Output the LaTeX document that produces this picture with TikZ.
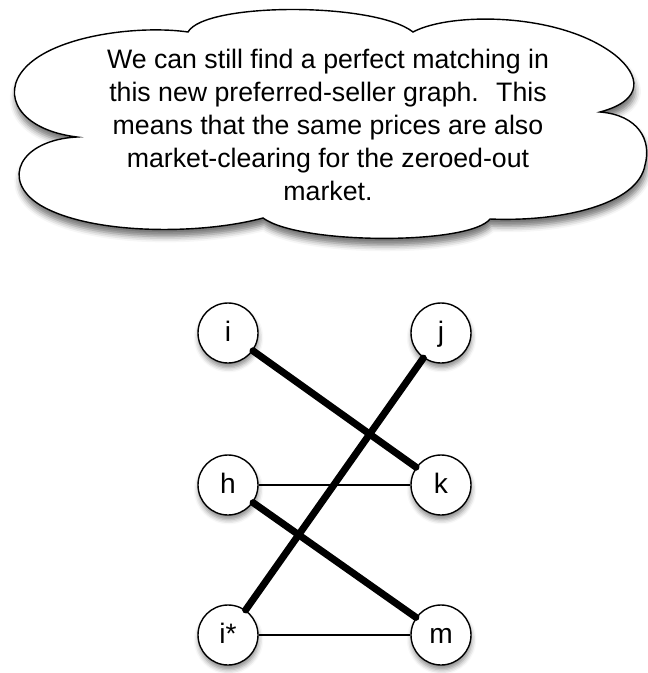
\documentclass[tikz,border=0pt]{standalone}
\usepackage{fontspec}
\setmainfont{Liberation Sans}
\usetikzlibrary{shadows.blur}

\begin{document}
\begin{tikzpicture}[
      x=0.03cm, y=-0.03cm,
      every node/.style={font=\fontsize{22.8}{28.2}\selectfont},
      vertex/.style={
        draw,
        circle,
        line width=1.2pt,
        fill=white,
        minimum size=1.8cm,
        inner sep=0pt,
        font=\fontsize{24}{28}\selectfont,
        text height=14.5pt,
        text depth=0pt,
        blur shadow={shadow xshift=0.5pt, shadow yshift=-4pt, shadow blur radius=4pt, shadow opacity=45}
      },
      matched/.style={line width=6pt, line cap=round},
      unmatched/.style={line width=1pt}
    ]
    \useasboundingbox (0,0) rectangle (648,673);

    % Thought cloud
    \draw[
      line width=1.2pt,
      fill=white,
      blur shadow={shadow xshift=1pt, shadow yshift=-6pt, shadow blur radius=5pt, shadow opacity=55}
    ] (188,32) .. controls (205,2) and (375,2) .. (413,32)
      .. controls (450,12) and (560,12) .. (615,55)
      .. controls (640,75) and (645,100) .. (600,112)
      .. controls (638,115) and (652,140) .. (645,165)
      .. controls (638,205) and (560,222) .. (490,219)
      .. controls (470,245) and (300,245) .. (263,218)
      .. controls (200,235) and (90,235) .. (40,205)
      .. controls (0,180) and (20,140) .. (77,137)
      .. controls (20,130) and (0,95) .. (25,68)
      .. controls (55,35) and (140,25) .. (188,32) -- cycle;

    \node[align=center, inner sep=0pt] (note) at (328,125)
      {We can still find a perfect matching in\\
       this new preferred-seller graph.~ This\\
       means that the same prices are also\\
       market-clearing for the zeroed-out\\
       market.};

    % Buyers (left) and sellers (right)
    \node[vertex] (i) at (228,333) {i};
    \node[vertex] (j) at (441,333) {j};
    \node[vertex] (h) at (228,485) {h};
    \node[vertex] (k) at (441,485) {k};
    \node[vertex] (istar) at (228,635) {i*};
    \node[vertex] (m) at (441,635) {m};

    % Edges
    \draw[unmatched] (h) -- (k);
    \draw[unmatched] (istar) -- (m);
    \draw[matched] (i) -- (k);
    \draw[matched] (j) -- (istar);
    \draw[matched] (h) -- (m);

  \end{tikzpicture}
\end{document}
